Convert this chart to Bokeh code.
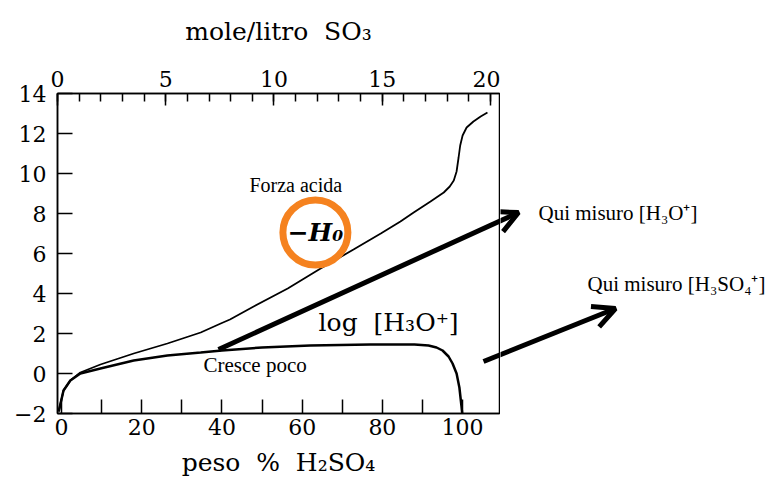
from bokeh.plotting import figure
from bokeh.layouts import row
from bokeh.models import Range1d, LinearAxis, FixedTicker, Arrow, OpenHead, Label
from bokeh.embed import file_html
from bokeh.resources import INLINE

# ---- data ----
h0_pct = [-0.7, 0.5, 2.2, 4.7, 9.7, 18, 26.4, 34.7, 39.7, 42, 47.9, 56.4, 64.6, 72.8,
          79.6, 84.5, 87.8, 92, 95.3, 96.8, 97.8, 98.5, 99.0, 99.4, 100.0, 101.0, 102.7, 104.5, 106.2]
h0_val = [-1.9, -0.85, -0.35, 0.05, 0.45, 1.0, 1.5, 2.05, 2.5, 2.7, 3.35, 4.25, 5.25, 6.2,
          7.0, 7.6, 8.05, 8.6, 9.05, 9.35, 9.65, 10.1, 10.8, 11.4, 11.9, 12.3, 12.6, 12.85, 13.05]

log_pct = [-0.7, 0.5, 2.2, 4.7, 9.7, 18, 26.4, 34.7, 40, 50, 62, 77, 88, 91.5, 93.5, 95,
           96.5, 97.5, 98.5, 99.2, 99.7, 99.9]
log_val = [-1.9, -0.85, -0.35, 0.0, 0.25, 0.65, 0.9, 1.05, 1.15, 1.3, 1.4, 1.45, 1.45, 1.4,
           1.3, 1.15, 0.85, 0.5, 0.0, -0.7, -1.6, -2.0]

y_ticks = [-2, 0, 2, 4, 6, 8, 10, 12, 14]
x_ticks = [0, 10, 20, 30, 40, 50, 60, 70, 80, 90, 100]
x_labels = {0: "0", 10: "", 20: "20", 30: "", 40: "40", 50: "", 60: "60", 70: "", 80: "80", 90: "", 100: "100"}
so3_major = [0, 5, 10, 15, 20]
so3_minor = list(range(0, 21))

TICK_FONT = "DejaVu Serif"
NOTE_FONT = "Liberation Serif"
RING = "#F5821F"

# annotation arrows (weight %, value) : start -> tip
ARROWS = [((39.14, 1.2), (113.94, 8.05)), ((105.21, 0.6), (138.12, 3.25))]

# ---------- main chart ----------
p = figure(width=500, height=484, output_backend="svg", toolbar_location=None,
           x_range=Range1d(-1.0, 109.2), y_range=Range1d(-2, 14),
           min_border_left=57, min_border_right=1, min_border_top=93, min_border_bottom=71,
           x_axis_location=None, y_axis_location=None)
p.grid.visible = False
p.outline_line_color = "black"
p.outline_line_width = 1.5
p.border_fill_color = "white"
p.extra_x_ranges = {"so3": Range1d(0, 20.42)}

def style(ax, tin):
    ax.axis_line_color = "black"
    ax.axis_line_width = 1.5
    ax.major_tick_line_color = "black"
    ax.major_tick_line_width = 1.5
    ax.major_tick_in = tin
    ax.major_tick_out = 0
    ax.major_label_text_font = TICK_FONT
    ax.major_label_text_font_size = "22px"
    ax.major_label_text_color = "black"
    ax.axis_label_text_font = TICK_FONT
    ax.axis_label_text_font_size = "25px"
    ax.axis_label_text_font_style = "normal"
    ax.axis_label_text_color = "black"

left = LinearAxis(ticker=FixedTicker(ticks=y_ticks))
style(left, 15)
left.minor_tick_line_color = None
left.major_label_standoff = 11
left.major_label_overrides = {-2: "\u22122"}
p.add_layout(left, "left")

bottom = LinearAxis(ticker=FixedTicker(ticks=x_ticks), axis_label="peso\u00a0 %\u00a0 H\u2082SO\u2084")
style(bottom, 14)
bottom.minor_tick_line_color = None
bottom.major_label_standoff = 5
bottom.axis_label_standoff = 10
bottom.major_label_overrides = x_labels
p.add_layout(bottom, "below")

top = LinearAxis(x_range_name="so3", ticker=FixedTicker(ticks=so3_major, minor_ticks=so3_minor),
                 axis_label="mole/litro\u00a0 SO\u2083")
style(top, 12)
top.minor_tick_line_color = "black"
top.minor_tick_line_width = 1.5
top.minor_tick_in = 8
top.minor_tick_out = 0
top.major_label_standoff = 7
top.axis_label_standoff = 22
p.add_layout(top, "above")

p.line(h0_pct, h0_val, line_color="black", line_width=1.8)
p.line(log_pct, log_val, line_color="black", line_width=2.5)

p.scatter([63.3], [7.05], marker="circle", size=65, fill_alpha=0, line_color=RING, line_width=7)
p.add_layout(Label(x=63.3, y=7.05, text="\u2212H\u2080", text_font=TICK_FONT, text_font_style="bold italic",
                   text_font_size="25px", text_align="center", text_baseline="middle", text_color="black"))
p.add_layout(Label(x=58.4, y=9.45, text="Forza acida", text_font=NOTE_FONT,
                   text_font_size="20px", text_align="center", text_baseline="middle", text_color="black"))
p.add_layout(Label(x=64.1, y=2.55, text="log\u00a0 [H\u2083O\u207a]", text_font=TICK_FONT,
                   text_font_size="25px", text_align="left", text_baseline="middle", text_color="black"))

for (xs, ys), (xe, ye) in ARROWS:
    p.add_layout(Arrow(end=None, x_start=xs, y_start=ys, x_end=xe, y_end=ye,
                       line_width=5, line_color="black"))

p.add_layout(Label(x=35.4, y=0.45, text="Cresce poco", text_font=NOTE_FONT,
                   text_font_size="21px", text_align="left", text_baseline="middle", text_color="black"))

# ---------- right-hand notes panel (same scales, continues to the right) ----------
q = figure(width=270, height=484, output_backend="svg", toolbar_location=None,
           x_range=Range1d(109.45, 176.77), y_range=Range1d(-2, 14),
           min_border_left=0, min_border_right=0, min_border_top=93, min_border_bottom=71,
           x_axis_location=None, y_axis_location=None)
q.grid.visible = False
q.outline_line_color = None
q.border_fill_color = "white"

for (xs, ys), (xe, ye) in ARROWS:
    q.add_layout(Arrow(end=OpenHead(size=22, line_width=5, line_color="black"),
                       x_start=xs, y_start=ys, x_end=xe, y_end=ye,
                       line_width=5, line_color="black"))

q.add_layout(Label(x=118.92, y=8.05, text="Qui misuro [H\u2083O\u207a]", text_font=NOTE_FONT,
                   text_font_size="21px", text_align="left", text_baseline="middle", text_color="black"))
q.add_layout(Label(x=131.14, y=4.5, text="Qui misuro [H\u2083SO\u2084\u207a]", text_font=NOTE_FONT,
                   text_font_size="21px", text_align="left", text_baseline="middle", text_color="black"))

layout = row(p, q, spacing=0)
open("out.html", "w").write(file_html(layout, INLINE))
